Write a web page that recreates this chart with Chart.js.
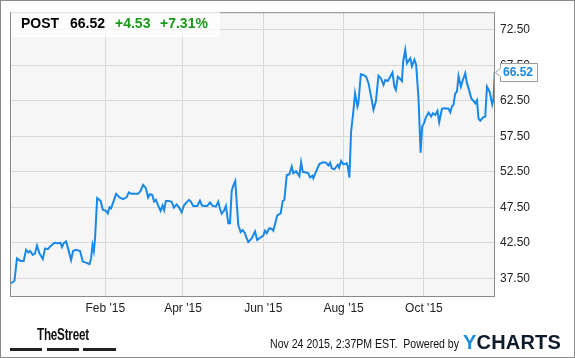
<!DOCTYPE html>
<html>
<head>
<meta charset="utf-8">
<script src="https://cdn.jsdelivr.net/npm/chart.js@4"></script>
<style>
  html, body { margin:0; padding:0; background:#fff; }
  #wrap { position:relative; width:575px; height:358px; overflow:hidden; background:#fff; font-family:"Liberation Sans", Arial, sans-serif; }
  #c { position:absolute; left:0; top:0; }
  #frame { position:absolute; left:0; top:0; width:575px; height:358px; box-sizing:border-box; border:1px solid #8a8a8a; pointer-events:none; }
  #hdr { position:absolute; left:11px; top:11px; width:209px; height:26px; background:rgba(255,255,255,0.72); }
  .h { position:absolute; top:16px; font-weight:bold; font-size:14px; line-height:14px; white-space:nowrap; }
  .blk { color:#000; }
  .grn { color:#1a9a1a; }
  #stamp { position:absolute; left:270px; top:338px; font-size:12px; line-height:12px; color:#111; white-space:pre; transform:scaleX(0.88); transform-origin:left top; }
  #yc { position:absolute; left:463px; top:332px; font-size:20px; line-height:20px; font-weight:bold; color:#0d1b2a; letter-spacing:0.2px; }
  #yc span { color:#1a8be3; }
  #ts { position:absolute; left:36.5px; top:327px; font-size:16px; line-height:16px; font-weight:bold; color:#111; transform:scaleX(0.73); transform-origin:left top; letter-spacing:-0.3px; }
  .bar { position:absolute; top:348px; height:3px; background:#222; }
</style>
</head>
<body>
<div id="wrap">
  <canvas id="c" width="575" height="358"></canvas>
  <div id="hdr"></div>
  <span class="h blk" id="tk" style="left:21px"></span>
  <span class="h blk" id="px" style="left:70px"></span>
  <span class="h grn" id="ch" style="left:115px"></span>
  <span class="h grn" id="pc" style="left:160px"></span>
  <div id="ts">TheStreet</div>
  <div class="bar" style="left:10px;width:32px"></div>
  <div class="bar" style="left:47px;width:32px"></div>
  <div class="bar" style="left:83px;width:33px"></div>
  <div id="stamp">Nov 24 2015, 2:37PM EST.  Powered by</div>
  <div id="yc"><span>Y</span>CHARTS</div>
  <div id="frame"></div>
</div>
<script>
// ---- data (x = day of year 2015, negative = Nov/Dec 2014) ----
const ticker = "POST";
const lastPrice = "66.52";
const change = "+4.53";
const changePct = "+7.31%";

const days = [
  -40.6,-38.0,-36.1,-33.5,-31.0,-29.2,-27.4,-26.2,-24.1,-22.4,
  -20.9,-19.0,-16.5,-14.8,-12.7,-10.7,-7.6,-5.1,-3.1,-1.9,
  -0.6,1.2,3.0,5.0,6.5,8.8,11.8,13.9,16.4,19.0,
  20.2,21.3,22.3,23.2,24.8,27.4,29.1,31.6,32.9,34.2,
  35.4,39.2,41.8,44.5,47.1,48.9,50.9,53.4,55.9,57.8,
  59.7,61.8,63.5,64.8,66.6,68.1,69.4,71.2,73.0,74.5,
  75.7,77.0,78.8,81.3,83.1,85.1,87.1,89.0,90.7,92.7,
  94.5,96.0,97.8,100.8,102.9,104.4,106.7,108.4,110.5,112.5,
  115.0,116.8,118.1,119.4,121.1,122.6,124.4,125.7,127.0,128.2,
  129.7,132.0,133.8,135.3,137.1,137.8,139.6,142.2,144.7,146.4,
  148.5,151.0,152.3,153.6,155.6,157.4,158.6,161.6,164.2,165.8,
  167.0,168.8,170.8,172.6,173.8,175.9,178.4,179.7,181.0,183.5,
  185.2,186.5,188.3,189.0,191.1,193.6,196.2,198.7,200.4,201.7,
  203.0,205.0,207.6,208.6,210.1,211.8,214.4,215.2,216.4,217.7,
  219.4,220.7,222.5,223.2,225.1,227.0,229.1,230.9,232.9,234.7,
  236.5,238.5,240.3,242.3,243.6,245.6,247.4,249.1,250.6,251.7,
  253.2,255.0,256.3,257.2,258.8,260.1,262.6,263.9,265.8,267.1,
  268.9,270.5,271.7,273.2,274.4,276.5,278.5,279.8,281.6,283.3,
  284.6,286.7,289.2,291.7,293.0,294.3,295.5,296.8,298.1,299.3,
  301.1,302.6,304.4,305.7,306.9,309.0,310.7,312.0,313.3,314.5,
  315.8,317.8,319.6,320.9,322.9,324.9,325.9,326.8
];
const prices = [
  36.8,37.15,40.3,39.95,39.95,41.5,41.15,41.35,40.8,41.0,
  42.1,41.0,40.2,41.7,41.6,42.0,42.5,42.45,42.5,41.9,
  42.45,42.7,41.5,40.05,41.35,41.5,41.35,39.85,39.7,39.5,
  40.3,42.2,41.35,43.1,48.8,48.4,47.15,47.0,46.65,47.5,
  47.35,49.4,48.9,48.65,48.9,49.6,49.4,49.4,49.4,49.8,
  50.65,50.2,48.9,49.35,49.25,48.3,48.55,47.75,47.0,47.75,
  47.1,48.4,48.4,48.3,47.45,47.9,47.45,46.8,47.75,48.2,
  48.55,48.3,47.7,47.7,48.45,47.75,47.7,47.7,48.2,47.7,
  47.6,48.3,47.3,46.6,47.0,47.7,45.25,45.25,49.8,50.55,
  51.2,45.0,44.0,44.3,43.85,43.4,42.6,43.1,44.1,42.9,
  43.2,43.5,44.2,43.85,44.55,44.45,44.2,46.35,46.65,48.4,
  48.55,52.05,52.15,53.25,52.3,52.6,51.9,53.85,52.5,52.4,
  52.3,51.7,51.95,51.6,52.55,53.6,53.85,53.8,53.4,53.8,
  53.0,52.85,53.5,53.1,54.05,53.55,53.7,53.25,51.7,58.2,
  61.0,63.55,61.7,62.15,66.25,66.15,65.9,65.0,63.1,61.25,
  62.4,66.05,65.7,64.75,65.45,65.3,65.9,66.5,64.5,64.05,
  65.9,65.6,65.3,67.95,69.7,67.8,68.5,67.35,68.3,67.6,
  62.85,55.2,58.9,59.4,60.15,60.85,60.3,60.75,60.5,61.1,
  59.5,61.4,61.45,61.4,60.9,61.7,62.0,63.55,63.8,66.0,
  64.5,65.45,66.4,65.0,64.3,62.85,62.5,62.15,62.6,60.0,
  59.7,60.15,60.3,64.5,63.8,62.0,62.85,66.52
];
const xTickDays = [31, 90, 151, 212, 273];
const xTickLabels = ["Feb '15", "Apr '15", "Jun '15", "Aug '15", "Oct '15"];
const yTicks = [37.5, 42.5, 47.5, 52.5, 57.5, 62.5, 67.5, 72.5];

document.getElementById('tk').textContent = ticker;
document.getElementById('px').textContent = lastPrice;
document.getElementById('ch').textContent = change;
document.getElementById('pc').textContent = changePct;

const points = days.map((d, i) => ({ x: d, y: prices[i] }));
const FONT = '"Liberation Sans", Arial, sans-serif';

const plotBg = {
  id: 'plotBg',
  beforeDraw(chart) {
    const a = chart.chartArea, ctx = chart.ctx;
    ctx.save();
    ctx.fillStyle = '#f6f6f6';
    ctx.fillRect(a.left, a.top, a.right - a.left, a.bottom - a.top);
    ctx.restore();
  },
  afterDraw(chart) {
    const a = chart.chartArea, ctx = chart.ctx;
    ctx.save();
    ctx.strokeStyle = '#8a8a8a';
    ctx.lineWidth = 1;
    ctx.strokeRect(a.left + 0.5, a.top + 0.5, a.right - a.left - 1, a.bottom - a.top);
    // last value flag
    const ys = chart.scales.y;
    const v = prices[prices.length - 1];
    const y = Math.round(ys.getPixelForValue(v)) + 0.5;
    const x0 = a.right + 5.5, x1 = a.right + 42.5;
    ctx.beginPath();
    ctx.moveTo(x0, y - 9);
    ctx.lineTo(x1, y - 9);
    ctx.lineTo(x1, y + 9);
    ctx.lineTo(x0, y + 9);
    ctx.lineTo(x0, y + 4);
    ctx.lineTo(x0 - 5, y);
    ctx.lineTo(x0, y - 4);
    ctx.closePath();
    ctx.fillStyle = '#fff';
    ctx.fill();
    ctx.strokeStyle = '#9a9a9a';
    ctx.stroke();
    ctx.fillStyle = '#1a88e6';
    ctx.font = 'bold 12px ' + FONT;
    ctx.textBaseline = 'middle';
    ctx.textAlign = 'left';
    ctx.fillText(v.toFixed(2), x0 + 2.5, y + 0.5);
    ctx.restore();
  }
};

new Chart(document.getElementById('c'), {
  type: 'line',
  data: {
    datasets: [{
      data: points,
      borderColor: '#1a88e6',
      borderWidth: 2,
      pointRadius: 0,
      tension: 0,
      fill: false
    }]
  },
  options: {
    responsive: false,
    devicePixelRatio: 1,
    animation: false,
    events: [],
    layout: { padding: { left: 10, top: 10, right: 0, bottom: 0 } },
    plugins: { legend: { display: false }, tooltip: { enabled: false } },
    scales: {
      x: {
        type: 'linear',
        min: -41.4,
        max: 327,
        afterBuildTicks: s => { s.ticks = xTickDays.map(v => ({ value: v })); },
        afterFit: s => { s.height = 62; },
        ticks: {
          callback: (v, i) => xTickLabels[i],
          font: { family: FONT, size: 12 },
          color: '#222',
          padding: 5,
          maxRotation: 0,
          autoSkip: false
        },
        grid: { color: '#d9d9d9', drawTicks: false, lineWidth: 1 },
        border: { display: false }
      },
      y: {
        position: 'right',
        min: 35,
        max: 75,
        afterBuildTicks: s => { s.ticks = yTicks.map(v => ({ value: v })); },
        afterFit: s => { s.width = 80; },
        ticks: {
          callback: v => Number(v).toFixed(2),
          font: { family: FONT, size: 12 },
          color: '#222',
          padding: 5
        },
        grid: { color: '#d9d9d9', drawTicks: false, lineWidth: 1 },
        border: { display: false }
      }
    }
  },
  plugins: [plotBg]
});
</script>
</body>
</html>
